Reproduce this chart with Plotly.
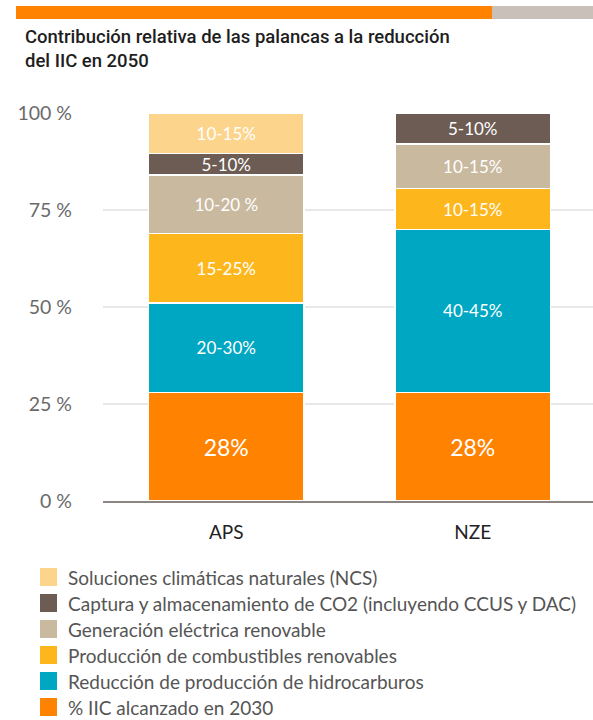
import plotly.graph_objects as go

scenarios = ["APS", "NZE"]

# Series listed bottom (first) to top (last) of each stack
series_names = [
    "% IIC alcanzado en 2030",
    "Reducción de producción de hidrocarburos",
    "Producción de combustibles renovables",
    "Generación eléctrica renovable",
    "Captura y almacenamiento de CO2 (incluyendo CCUS y DAC)",
    "Soluciones climáticas naturales (NCS)",
]
iic_2030 = [28, 28]
reduccion_hc = [23, 42]
combustibles_ren = [18, 10.5]
electrica_ren = [15, 11.5]
captura_co2 = [5.5, 8]
ncs = [10.5, None]

iic_2030_lbl = ["28%", "28%"]
reduccion_hc_lbl = ["20-30%", "40-45%"]
combustibles_ren_lbl = ["15-25%", "10-15%"]
electrica_ren_lbl = ["10-20 %", "10-15%"]
captura_co2_lbl = ["5-10%", "5-10%"]
ncs_lbl = ["10-15%", ""]

colors = ["#ff8200", "#00a7c2", "#fdb71d", "#c9b99f", "#6d5c54", "#fdd48b"]

values = [iic_2030, reduccion_hc, combustibles_ren, electrica_ren, captura_co2, ncs]
labels = [iic_2030_lbl, reduccion_hc_lbl, combustibles_ren_lbl, electrica_ren_lbl, captura_co2_lbl, ncs_lbl]

y_ticks = [0, 25, 50, 75, 100]
y_tick_text = ["0 %", "25 %", "50 %", "75 %", "100 %"]

title_lines = ["Contribución relativa de las palancas a la reducción", "del IIC en 2050"]

W, H = 593, 720
L, R, T, B = 103, 0, 113, 219
PW, PH = W - L - R, H - T - B

fig = go.Figure()
for name, vals, lbls, col in zip(series_names, values, labels, colors):
    fs = 23 if name.startswith("%") else 17
    fig.add_trace(go.Bar(
        x=scenarios, y=vals, name=name, text=lbls,
        textposition="inside", insidetextanchor="middle",
        textangle=0, constraintext="none",
        textfont=dict(color="white", size=fs, family="Lato"),
        marker=dict(color=col, line=dict(color="white", width=1.5)),
        width=0.63, showlegend=False, hoverinfo="skip",
    ))

def px_x(p):
    return (p - L) / PW

def px_y(p):
    return (H - B - p) / PH

shapes = [
    dict(type="rect", xref="paper", yref="paper",
         x0=px_x(16), x1=px_x(492), y0=px_y(19), y1=px_y(6),
         fillcolor="#ff8200", line=dict(width=0), layer="above"),
    dict(type="rect", xref="paper", yref="paper",
         x0=px_x(492), x1=px_x(593), y0=px_y(19), y1=px_y(6),
         fillcolor="#c8c0b9", line=dict(width=0), layer="above"),
]
annotations = []

# Title (two lines in one text block)
annotations.append(dict(
    text="<br>".join(title_lines), xref="paper", yref="paper",
    x=px_x(23), y=px_y(49), xanchor="left", yanchor="middle", align="left",
    showarrow=False,
    font=dict(family="Roboto", size=18.5, weight=500, color="#1e1e1e"),
))

# Legend (top to bottom)
legend_items = list(reversed(list(zip(series_names, colors))))
for i, (name, col) in enumerate(legend_items):
    cy = 577 + 26 * i
    shapes.append(dict(type="rect", xref="paper", yref="paper",
                       x0=px_x(40), x1=px_x(57), y0=px_y(cy + 9), y1=px_y(cy - 9),
                       fillcolor=col, line=dict(width=0)))
    annotations.append(dict(
        text=name, xref="paper", yref="paper", x=px_x(66), y=px_y(cy),
        xanchor="left", yanchor="middle", showarrow=False,
        font=dict(family="Lato", size=19, color="#555555"),
    ))

fig.update_layout(
    width=W, height=H,
    margin=dict(l=L, r=R, t=T, b=B, pad=0),
    paper_bgcolor="white", plot_bgcolor="white",
    barmode="stack",
    shapes=shapes,
    annotations=annotations,
    showlegend=False,
    font=dict(family="Lato", color="#555555"),
    xaxis=dict(type="category", range=[-0.5, 1.488], showgrid=False,
               showline=True, linecolor="#8c8481", linewidth=2,
               ticks="", tickfont=dict(family="Lato", size=19, color="#222222"),
               ticklabelstandoff=13, automargin=False),
    yaxis=dict(range=[0, 100], tickvals=y_ticks, ticktext=y_tick_text,
               showgrid=True, gridcolor="#e8e8e8", gridwidth=1.5,
               zeroline=False, ticks="", ticklabelstandoff=30, automargin=False,
               tickfont=dict(family="Lato", size=19.5, color="#6a6a6a")),
)

fig.write_html("out.html", config={"displayModeBar": False}, post_script=(
    "document.body.style.margin='0';"
    "document.body.style.padding='0';"
    "document.documentElement.style.overflow='hidden';"
))
